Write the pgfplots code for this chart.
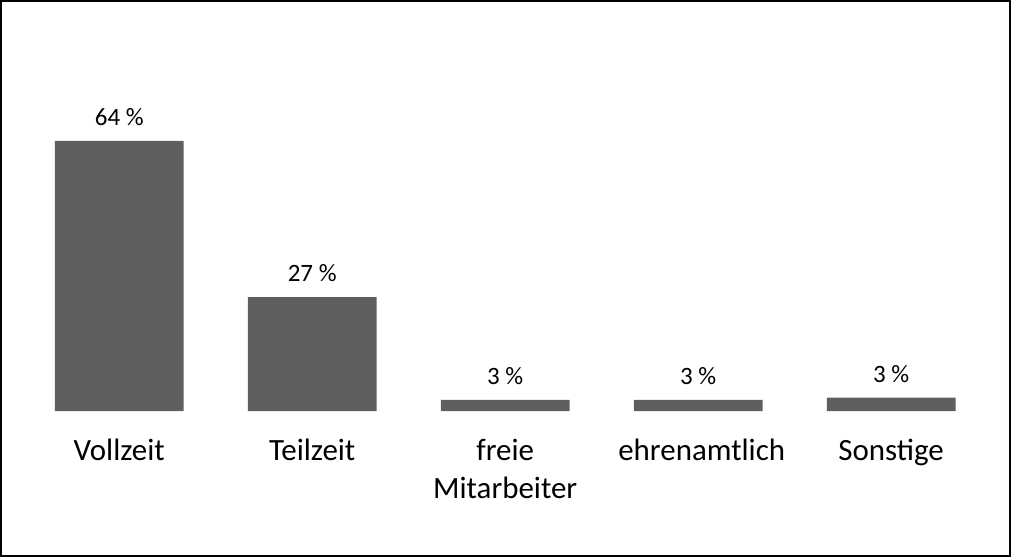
\documentclass[border=0pt]{standalone}
\usepackage{fontspec}
\setmainfont{Carlito}
\usepackage{pgfplots}
\pgfplotsset{compat=1.18}
\definecolor{bargray}{HTML}{5F5F5F}
\begin{document}
\begin{tikzpicture}
\begin{axis}[
    scale only axis,
    width=483.4pt, height=190.5pt,
    xmin=-0.5, xmax=4.5,
    ymin=0, ymax=90,
    axis line style={draw=none},
    major tick length=0pt,
    ybar, bar width=64.5pt,
    xtick={0,1,2,3,4},
    xticklabels={Vollzeit,Teilzeit,freie Mitarbeiter,ehrenamtlich,Sonstige},
    x tick label style={font=\fontsize{15.5}{19}\selectfont, align=center, text width=80pt, anchor=north, yshift=-10.5pt},
    ytick=\empty,
    /pgf/number format/assume math mode=true,
    nodes near coords={\pgfmathprintnumber[fixed,precision=0]{\pgfplotspointmeta} \%},
    every node near coord/.append style={font=\fontsize{12.5}{15}\selectfont, text=black, yshift=4pt},
    clip=false,
]
\addplot[fill=bargray, draw=none] coordinates {(0,64) (1,27) (2,2.7) (3,2.7) (4,3.2)};
\end{axis}
\draw[black, line width=1pt] (-10.9pt,-72.5pt) rectangle (494.6pt,205.5pt);
\useasboundingbox (-11.4pt,-73pt) rectangle (495.1pt,206pt);
\end{tikzpicture}
\end{document}
